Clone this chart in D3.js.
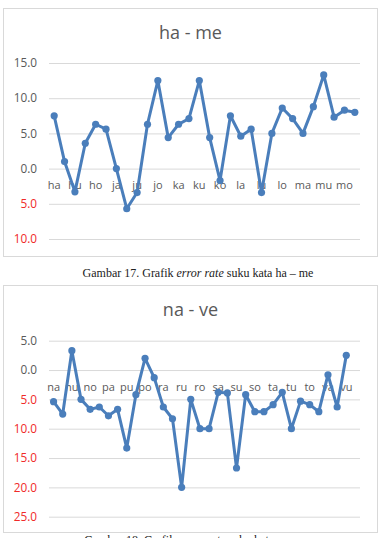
<!DOCTYPE html>
<html>
<head>
<meta charset="utf-8">
<script src="https://cdn.jsdelivr.net/npm/d3@7"></script>
<style>
  body { margin: 0; background: #fff; }
  svg { display: block; }
  .grid line { stroke: #d9d9d9; stroke-width: 1; }
  .grid .domain { display: none; }
  .grid text { font-family: "Open Sans", sans-serif; font-size: 11.8px; }
  .cat .domain { display: none; }
  .cat text { font-family: "Open Sans", sans-serif; font-size: 11px; fill: #595959; }
  .chart-title { font-family: "Open Sans", sans-serif; font-size: 18px; fill: #595959; }
  .caption { font-family: "Liberation Serif", "Times New Roman", serif; font-size: 12px; fill: #222; }
</style>
</head>
<body>
<svg id="page" width="380" height="538"></svg>
<script>
// syllables ha - me (vowel order a, i, u, é, o, e)
var catsHaMe = ["ha","hi","hu","hé","ho","he","ja","ji","ju","jé","jo","je",
  "ka","ki","ku","ké","ko","ke","la","li","lu","lé","lo","le","ma","mi","mu","mé","mo","me"];
var errHaMe = [7.5, 1.0, -3.3, 3.6, 6.3, 5.6, 0.0, -5.7, -3.4, 6.3, 12.5, 4.4,
  6.3, 7.1, 12.5, 4.4, -1.7, 7.5, 4.6, 5.6, -3.4, 5.0, 8.6, 7.1, 5.0, 8.8, 13.3, 7.3, 8.3, 8.0];
var ticksHaMe = [15, 10, 5, 0, -5, -10];

// syllables na - ve
var catsNaVe = ["na","ni","nu","né","no","ne","pa","pi","pu","pé","po","pe",
  "ra","ri","ru","ré","ro","re","sa","si","su","sé","so","se","ta","ti","tu","té","to","te",
  "va","vi","vu","ve"];
var errNaVe = [-5.4, -7.5, 3.3, -5.0, -6.7, -6.3, -7.8, -6.7, -13.3, -4.2, 2.0, -1.3,
  -6.3, -8.3, -20.0, -5.0, -10.0, -10.0, -3.8, -3.9, -16.7, -4.2, -7.1, -7.1,
  -5.9, -3.8, -10.0, -5.3, -5.9, -7.1, -0.8, -6.3, 2.5, null];
var ticksNaVe = [5, 0, -5, -10, -15, -20, -25];

var svg = d3.select("#page");
var fmt = d3.format(".1f");

function drawChart(opt) {
  var g = svg.append("g");

  // chart frame
  g.append("rect")
    .attr("x", 3.5).attr("y", opt.top + 0.5)
    .attr("width", 374).attr("height", opt.height)
    .attr("fill", "#fff").attr("stroke", "#d9d9d9");

  g.append("text")
    .attr("class", "chart-title")
    .attr("x", 190.5).attr("y", opt.top + 25)
    .attr("text-anchor", "middle").attr("dy", "0.35em")
    .text(opt.title);

  var x = d3.scaleBand().domain(d3.range(opt.cats.length)).range([49, 360]);
  var y = d3.scaleLinear().domain(opt.yDomain).range(opt.yRange);

  var yAxis = d3.axisLeft(y)
    .tickValues(opt.ticks)
    .tickSize(-311)
    .tickPadding(12)
    .tickFormat(function(d) { return fmt(Math.abs(d)); });

  var gy = g.append("g").attr("class", "grid")
    .attr("transform", "translate(49,0)")
    .call(yAxis);
  gy.selectAll("text").attr("fill", function(d) { return d < 0 ? "#f02a2a" : "#595959"; });

  // category labels sit next to the zero line, every other one shown
  var xAxis = d3.axisBottom(x)
    .tickSize(0)
    .tickPadding(13)
    .tickFormat(function(i) { return i % 2 == 0 ? opt.cats[i] : ""; });
  g.append("g").attr("class", "cat")
    .attr("transform", "translate(0," + y(0) + ")")
    .call(xAxis);

  var pts = opt.values.map(function(v, i) { return {i: i, v: v}; })
    .filter(function(d) { return d.v != null; });

  var line = d3.line()
    .x(function(d) { return x(d.i) + x.bandwidth() / 2; })
    .y(function(d) { return y(d.v); });

  g.append("path")
    .datum(pts)
    .attr("d", line)
    .attr("fill", "none")
    .attr("stroke", "#4a7ebb")
    .attr("stroke-width", 3)
    .attr("stroke-linejoin", "round");

  g.selectAll(".dot")
    .data(pts)
    .enter().append("circle")
      .attr("class", "dot")
      .attr("cx", function(d) { return x(d.i) + x.bandwidth() / 2; })
      .attr("cy", function(d) { return y(d.v); })
      .attr("r", 3.6)
      .attr("fill", "#4a7ebb");

  var cap = svg.append("text")
    .attr("class", "caption")
    .attr("x", 198).attr("y", opt.captionY)
    .attr("text-anchor", "middle");
  cap.append("tspan").text(opt.caption[0]);
  cap.append("tspan").attr("font-style", "italic").text(opt.caption[1]);
  cap.append("tspan").text(opt.caption[2]);
}

drawChart({
  title: "ha - me", top: 8, height: 248,
  cats: catsHaMe, values: errHaMe, ticks: ticksHaMe,
  yDomain: [-10, 15], yRange: [239, 63],
  caption: ["Gambar 17. Grafik ", "error rate", " suku kata ha \u2013 me"], captionY: 276.5
});

drawChart({
  title: "na - ve", top: 285, height: 247,
  cats: catsNaVe, values: errNaVe, ticks: ticksNaVe,
  yDomain: [-25, 5], yRange: [516.7, 340.7],
  caption: ["Gambar 18. Grafik ", "error rate", " suku kata na \u2013 ve"], captionY: 544
});
</script>
</body>
</html>
